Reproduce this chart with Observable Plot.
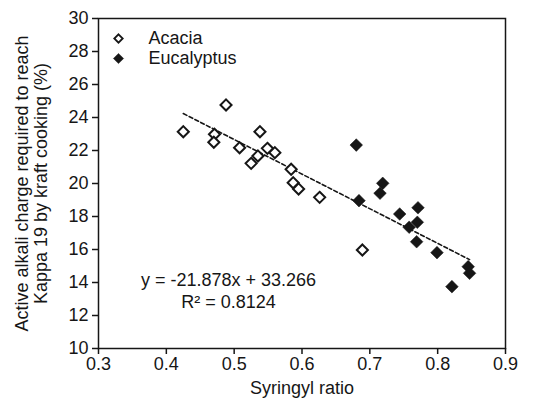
<!DOCTYPE html>
<html>
<head>
<meta charset="utf-8">
<script src="https://cdn.jsdelivr.net/npm/d3@7"></script>
<script src="https://cdn.jsdelivr.net/npm/@observablehq/plot@0.6"></script>
<style>
  html, body { margin: 0; padding: 0; background: #fff; }
  #chart svg { display: block; }
</style>
</head>
<body>
<div id="chart"></div>
<script>
// Data
const acaciaX = [0.425, 0.488, 0.471, 0.470, 0.508, 0.538, 0.549, 0.560, 0.535, 0.525, 0.584, 0.587, 0.595, 0.626, 0.689];
const acaciaY = [23.14, 24.76, 22.98, 22.50, 22.17, 23.14, 22.13, 21.87, 21.67, 21.22, 20.86, 20.05, 19.67, 19.16, 15.97];
const eucX = [0.680, 0.684, 0.719, 0.715, 0.744, 0.771, 0.770, 0.758, 0.769, 0.799, 0.845, 0.847, 0.821];
const eucY = [22.33, 18.96, 20.01, 19.41, 18.15, 18.53, 17.65, 17.35, 16.47, 15.81, 14.96, 14.56, 13.75];
const seriesNames = ["Acacia", "Eucalyptus"];
const xTicks = [0.3, 0.4, 0.5, 0.6, 0.7, 0.8, 0.9];
const yTicks = [10, 12, 14, 16, 18, 20, 22, 24, 26, 28, 30];
const equationLines = ["y = -21.878x + 33.266", "R\u00b2 = 0.8124"];
const xTitle = "Syringyl ratio";
const yTitleLines = ["Active alkali charge required to reach", "Kappa 19 by kraft cooking (%)"];

const acacia = acaciaX.map((x, i) => ({x, y: acaciaY[i], s: seriesNames[0]}));
const euc = eucX.map((x, i) => ({x, y: eucY[i], s: seriesNames[1]}));
const all = acacia.concat(euc);

const ink = "#161616";
const font = "Liberation Sans, Arial, sans-serif";
const fs = 18;

const chart = Plot.plot({
  width: 545,
  height: 405,
  marginLeft: 98,
  marginRight: 40,
  marginTop: 18,
  marginBottom: 57,
  style: {fontFamily: font, color: ink, background: "#fff"},
  x: {domain: [0.3, 0.9]},
  y: {domain: [10, 30]},
  marks: [
    Plot.frame({stroke: ink, strokeWidth: 1.5}),
    Plot.axisX({ticks: xTicks, tickFormat: d3.format(".1f"), tickSize: 6, tickPadding: 3, fontSize: fs, label: null, stroke: ink, strokeWidth: 1.5}),
    Plot.axisY({ticks: yTicks, tickSize: 6, tickPadding: 4, fontSize: fs, label: null, stroke: ink, strokeWidth: 1.5}),
    Plot.linearRegressionY(all, {x: "x", y: "y", ci: 0, stroke: ink, strokeWidth: 1.6, strokeDasharray: "4,2.5"}),
    Plot.dot(acacia, {x: "x", y: "y", symbol: "diamond2", r: 5, stroke: ink, strokeWidth: 2, fill: "white"}),
    Plot.dot(euc, {x: "x", y: "y", symbol: "diamond2", r: 5.7, fill: ink, stroke: ink, strokeWidth: 0.5}),
    // legend
    Plot.dot([seriesNames[0]], {frameAnchor: "top-left", dx: 20, dy: 20, symbol: "diamond2", r: 3.8, stroke: ink, strokeWidth: 1.8, fill: "white"}),
    Plot.dot([seriesNames[1]], {frameAnchor: "top-left", dx: 20, dy: 40, symbol: "diamond2", r: 4.6, fill: ink, stroke: ink, strokeWidth: 0.5}),
    Plot.text([seriesNames[0]], {text: d => d, frameAnchor: "top-left", dx: 50, dy: 20, textAnchor: "start", lineAnchor: "middle", fontSize: fs, fill: ink}),
    Plot.text([seriesNames[1]], {text: d => d, frameAnchor: "top-left", dx: 50, dy: 40, textAnchor: "start", lineAnchor: "middle", fontSize: fs, fill: ink}),
    // regression equation
    Plot.text([equationLines.join("\n")], {text: d => d, frameAnchor: "left", dx: 130, dy: 106, textAnchor: "middle", lineAnchor: "middle", lineHeight: 1.22, fontSize: fs, fill: ink}),
    // axis titles
    Plot.text([xTitle], {text: d => d, frameAnchor: "bottom", dy: 40, lineAnchor: "middle", fontSize: fs, fill: ink}),
    Plot.text([yTitleLines.join("\n")], {text: d => d, frameAnchor: "left", dx: -67, rotate: -90, textAnchor: "middle", lineAnchor: "middle", lineHeight: 1.08, fontSize: fs, fill: ink})
  ]
});
document.getElementById("chart").appendChild(chart);
</script>
</body>
</html>
